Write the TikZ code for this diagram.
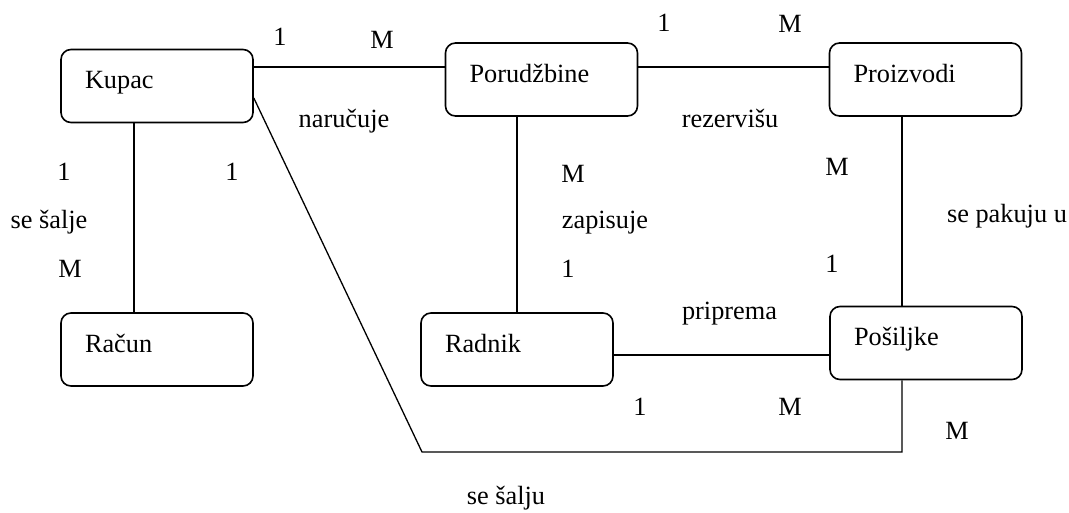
\documentclass[tikz,border=0pt]{standalone}
\usepackage{fontspec}
\setmainfont{Liberation Serif}
\usetikzlibrary{calc}

\begin{document}
\fontsize{26.3}{30}\selectfont
\begin{tikzpicture}[x=1pt, y=-1pt,
        entity/.style={draw, line width=1.6pt, rounded corners=10pt, text width=144pt, inner xsep=24pt, inner ysep=0pt, align=left, minimum height=73pt, text height=20pt, text depth=15pt},
        lbl/.style={anchor=base, inner sep=0pt},
        conn/.style={line width=1.3pt}]
            \useasboundingbox (0,0) rectangle (1069,512);
            \node[entity] (kupac) at (157,86) {Kupac};
            \node[entity] (porudzbine) at (541.5,79.5) {Porudžbine};
            \node[entity] (proizvodi) at (925.5,79.5) {Proizvodi};
            \node[entity] (racun) at (157,349.5) {Račun};
            \node[entity] (radnik) at (517,349.5) {Radnik};
            \node[entity] (posiljke) at (926,343) {Pošiljke};
            \coordinate (bend) at (422,452);
            \draw[conn] ([yshift=19pt]kupac.east) -- ([yshift=19pt]kupac.east -| porudzbine.west);
            \draw[conn] ([yshift=12.5pt]porudzbine.east) -- ([yshift=12.5pt]porudzbine.east -| proizvodi.west);
            \draw[conn] ([xshift=-23pt]kupac.south) -- ([xshift=-23pt]kupac.south |- racun.north);
            \draw[conn] (porudzbine.south -| radnik.north) -- (radnik.north);
            \draw[conn] ([xshift=-24pt]posiljke.north) -- ([xshift=-24pt]posiljke.north |- proizvodi.south);
            \draw[conn] ([yshift=-5.5pt]radnik.east) -- ([yshift=-5.5pt]radnik.east -| posiljke.west);
            \draw[conn] ([yshift=-12pt]kupac.east) -- (bend) -| ([xshift=-24pt]posiljke.south);
            \node[lbl] (narucuje 1) at (280,45) {1};
            \node[lbl] (narucuje M) at (382,48) {M};
            \node[lbl] (narucuje) at (344,127) {naručuje};
            \node[lbl] (rezervisu 1) at (664,31) {1};
            \node[lbl] (rezervisu M) at (790,32) {M};
            \node[lbl] (rezervisu) at (730,127) {rezervišu};
            \node[lbl] (salje 1) at (64,180) {1};
            \node[lbl] (salje) at (49,228) {se šalje};
            \node[lbl] (salje M) at (70,277) {M};
            \node[lbl] (salju 1) at (232,180) {1};
            \node[lbl] (zapisuje M) at (573,182) {M};
            \node[lbl] (zapisuje) at (605,228) {zapisuje};
            \node[lbl] (zapisuje 1) at (568,277) {1};
            \node[lbl] (pakuju M) at (837,175) {M};
            \node[lbl] (pakuju) at (1007,222) {se pakuju u};
            \node[lbl] (pakuju 1) at (832,272) {1};
            \node[lbl] (priprema) at (729.5,319) {priprema};
            \node[lbl] (priprema 1) at (640,415) {1};
            \node[lbl] (priprema M) at (790,415) {M};
            \node[lbl] (salju M) at (957,439) {M};
            \node[lbl] (salju) at (506,504) {se šalju};
        \end{tikzpicture}
\end{document}
